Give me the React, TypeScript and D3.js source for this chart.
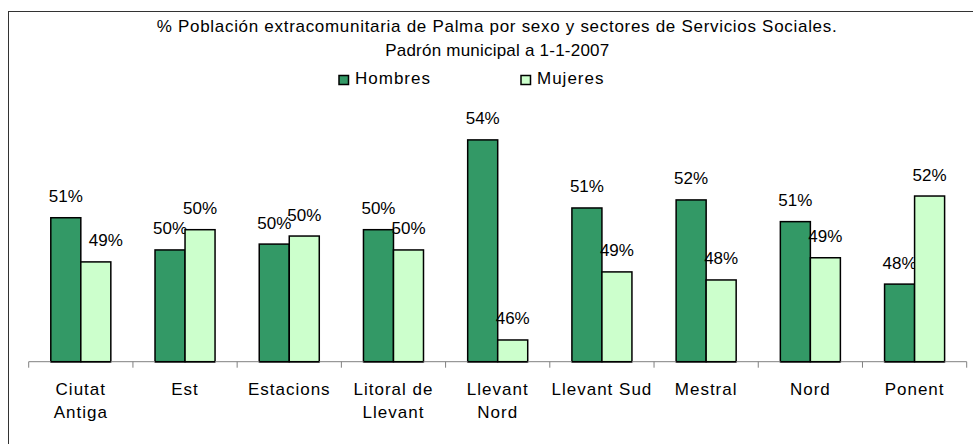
import React from 'react'
import * as d3 from 'd3'

// sectores de Servicios Sociales
const categories = ['Ciutat Antiga', 'Est', 'Estacions', 'Litoral de Llevant', 'Llevant Nord', 'Llevant Sud', 'Mestral', 'Nord', 'Ponent']
const categoryLines = [['Ciutat', 'Antiga'], ['Est'], ['Estacions'], ['Litoral de', 'Llevant'], ['Llevant', 'Nord'], ['Llevant Sud'], ['Mestral'], ['Nord'], ['Ponent']]
const series = ['Hombres', 'Mujeres']
const hombres = [50.9, 49.58, 49.82, 50.41, 54.09, 51.3, 51.63, 50.74, 48.18]
const mujeres = [49.09, 50.41, 50.15, 49.58, 45.89, 48.68, 48.35, 49.26, 51.79]
const yDomain = [45, 56]
const title1 = '% Población extracomunitaria de Palma por sexo y sectores de Servicios Sociales.'
const title2 = 'Padrón municipal a 1-1-2007'

const colors = { Hombres: '#339966', Mujeres: '#ccffcc' }
const font = 'Arial, "Liberation Sans", sans-serif'

export default function App() {
  const width = 973
  const height = 444
  const left = 28.7
  const right = 966.7
  const baseline = 361.7
  const top = baseline - 11 * 24.4

  const x0 = d3.scaleBand().domain(categories).range([left, right]).paddingInner(0.424).paddingOuter(0.212)
  const x1 = d3.scaleBand().domain(series).range([0, x0.bandwidth()])
  const y = d3.scaleLinear().domain(yDomain).range([baseline, top])

  const values = { Hombres: hombres, Mujeres: mujeres }
  const ticks = d3.range(categories.length + 1).map(i => left + i * x0.step())

  // one label in the original sits a bit off its bar
  const nudge = (s, c) => (s === 'Mujeres' && c === 'Ciutat Antiga' ? 10 : 0)

  return (
    <svg width={width} height={height} style={{ position: 'absolute', left: 0, top: 0, background: '#fff' }} fontFamily={font}>
      <rect x={8.5} y={11.5} width={1000} height={500} fill="#fff" stroke="#333" strokeWidth={1} />

      <text x={496.7} y={32} fontSize={17} textAnchor="middle" textLength={680} lengthAdjust="spacing">{title1}</text>
      <text x={497.2} y={56} fontSize={17} textAnchor="middle" textLength={224} lengthAdjust="spacing">{title2}</text>

      {series.map((s, i) => (
        <g key={s} transform={`translate(${339 + i * 182},0)`}>
          <rect x={0} y={75.5} width={9.5} height={9} fill={colors[s]} stroke="#000" strokeWidth={1.5} />
          <text x={16} y={84} fontSize={17} letterSpacing={1}>{s}</text>
        </g>
      ))}

      {categories.map((c, ci) => (
        <g key={c}>
          {series.map(s => {
            const v = values[s][ci]
            const bx = x0(c) + x1(s)
            const by = y(v)
            return (
              <g key={s}>
                <rect x={bx} y={by} width={x1.bandwidth()} height={baseline - by} fill={colors[s]} stroke="#000" strokeWidth={1.5} />
                <text x={bx + x1.bandwidth() / 2 + nudge(s, c)} y={by - 15.5} fontSize={17} textAnchor="middle">
                  {d3.format('.0f')(v) + '%'}
                </text>
              </g>
            )
          })}
        </g>
      ))}

      <line x1={left} x2={right} y1={baseline} y2={baseline} stroke="#808080" strokeWidth={1} />
      {ticks.map((t, i) => (
        <line key={i} x1={t} x2={t} y1={baseline} y2={baseline + 6} stroke="#808080" strokeWidth={1} />
      ))}
      {/* redraw bar bottoms on top of axis */}
      {categories.map(c => (
        <line key={c} x1={x0(c)} x2={x0(c) + x0.bandwidth()} y1={baseline} y2={baseline} stroke="#000" strokeWidth={1.5} />
      ))}

      {categories.map((c, ci) => (
        <text key={c} x={x0(c) + x0.bandwidth() / 2} y={395} fontSize={17} textAnchor="middle" letterSpacing={1}>
          {categoryLines[ci].map((line, li) => (
            <tspan key={li} x={x0(c) + x0.bandwidth() / 2} y={395 + li * 23}>{line}</tspan>
          ))}
        </text>
      ))}
    </svg>
  )
}
